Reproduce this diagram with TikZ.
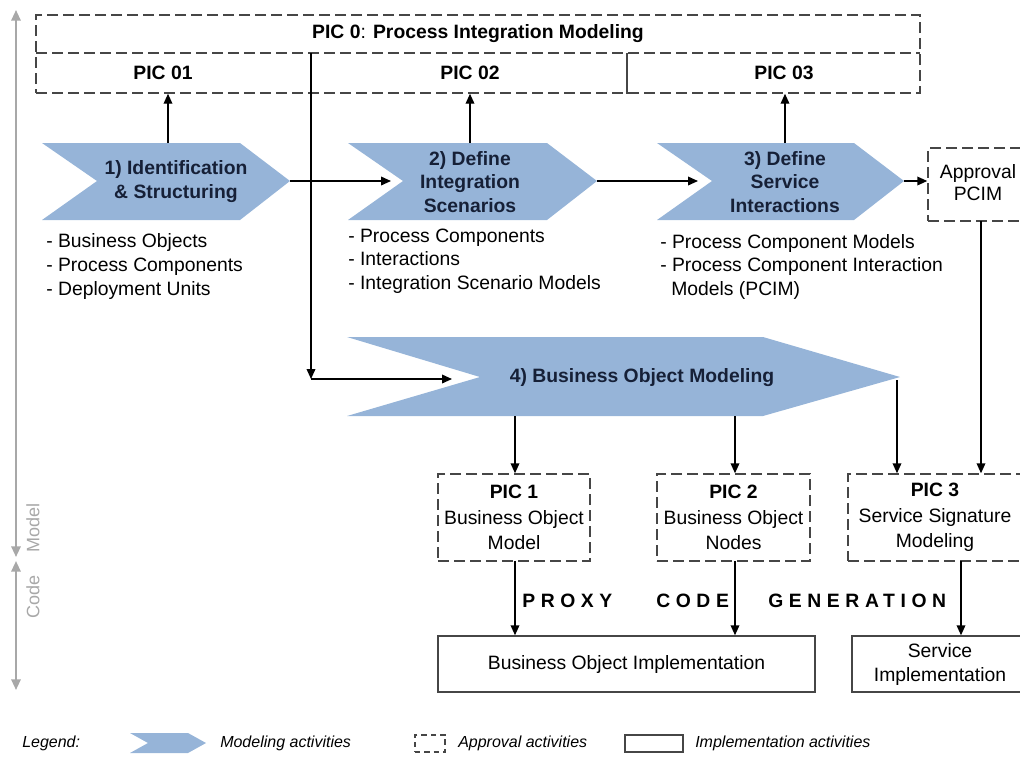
\documentclass[tikz,border=0pt]{standalone}
\usepackage{fontspec}
\setmainfont{Liberation Sans}
\newfontfamily\spacedfont[LetterSpace=29]{Liberation Sans}
\usetikzlibrary{arrows.meta,fit,calc}
\definecolor{chevfill}{RGB}{150,180,216}
\definecolor{chevtext}{RGB}{22,32,55}
\definecolor{boxline}{RGB}{70,70,70}
\definecolor{axisgray}{RGB}{168,168,168}
\begin{document}
\begin{tikzpicture}[x=0.75pt,y=-0.75pt,
  every node/.style={font=\fontsize{14.5}{18}\selectfont, inner sep=0pt},
  arr/.style={line width=1.1pt, -{Triangle[length=7.5pt,width=6.5pt]}},
  plain/.style={line width=1.1pt},
  dbox/.style={draw=boxline, line width=1.1pt, dash pattern=on 8pt off 4pt, inner sep=0pt},
  dline/.style={draw=boxline, line width=1.1pt, dash pattern=on 8pt off 4pt},
  sbox/.style={draw=boxline, line width=1.1pt, inner sep=0pt},
  chev/.style={fill=chevfill},
  chevlbl/.style={font=\fontsize{14.5}{17.6}\selectfont\bfseries, text=chevtext, align=center},
  boldlbl/.style={font=\fontsize{14.5}{18}\selectfont\bfseries},
  item/.style={anchor=base west},
  boxtxt/.style={align=center, font=\fontsize{14.5}{19}\selectfont},
  gaxis/.style={draw=axisgray, line width=1.5pt, {Triangle[length=8pt,width=7pt]}-{Triangle[length=8pt,width=7pt]}},
  glbl/.style={text=axisgray, rotate=90, font=\fontsize{13.5}{16}\selectfont},
  leg/.style={font=\fontsize{12}{14}\selectfont\itshape, anchor=west},
  gen/.style={font=\fontsize{14.5}{18}\selectfont\spacedfont\bfseries, anchor=base west},
]
\useasboundingbox (0,0) rectangle (1020,765);
\clip (0,0) rectangle (1020,765);

% ---- side axis ----
\coordinate (mtop) at (16,10);
\coordinate (mbot) at (16,557);
\coordinate (ctop) at (16,561);
\coordinate (cbot) at (16,690);
\draw[gaxis] (mbot) -- (mtop);
\draw[gaxis] (cbot) -- (ctop);
\node[glbl] (modellbl) at (33,528) {Model};
\node[glbl] (codelbl) at (33,597) {Code};

% ---- PIC 0 box ----
\node[dbox, fit={(36,15) (920,93)}] (pic0) {};
\draw[dline] (36,53) -- (920,53);
\coordinate (div) at (627,53);
\draw[plain, draw=boxline] (div) -- (div |- pic0.south);
\node[boldlbl] (pic0t) at (478,34) {PIC 0{\mdseries:} Process Integration Modeling};
\node[boldlbl] (pic01) at (163,73) {PIC 01};
\node[boldlbl] (pic02) at (470,73) {PIC 02};
\node[boldlbl] (pic03) at (784,73) {PIC 03};

% ---- chevrons ----
\fill[chev] (42,143) -- (240,143) -- (290,181) -- (240,220) -- (42,220) -- (97,181) -- cycle;
\fill[chev] (348,143) -- (547,143) -- (597,181) -- (547,220) -- (348,220) -- (403,181) -- cycle;
\fill[chev] (657,143) -- (854,143) -- (904,181) -- (854,220) -- (657,220) -- (712,181) -- cycle;
\fill[chev] (347,337) -- (763,337) -- (900,377) -- (763,416) -- (347,416) -- (480,377) -- cycle;
\node[chevlbl, font=\fontsize{14.5}{18}\selectfont\bfseries] (ch1) at (176,182) {1) Identification\\\& Structuring};
\node[chevlbl] (ch2) at (470,182) {2) Define\\Integration\\Scenarios};
\node[chevlbl] (ch3) at (785,182) {3) Define\\Service\\Interactions};
\node[chevlbl] (ch4) at (642,378) {4) Business Object Modeling};

\coordinate (ch1top) at (168,143);
\coordinate (ch2top) at (470,143);
\coordinate (ch3top) at (785,143);
\coordinate (ch1tip) at (290,181);
\coordinate (ch2tip) at (597,181);
\coordinate (ch3tip) at (904,181);
\coordinate (ch2in) at (391,181);
\coordinate (ch3in) at (698,181);

% ---- lists ----
\node[item] (l11) at (46,247) {- Business Objects};
\node[item] (l12) at (46,271) {- Process Components};
\node[item] (l13) at (46,295) {- Deployment Units};
\node[item] (l21) at (348,242) {- Process Components};
\node[item] (l22) at (348,265) {- Interactions};
\node[item] (l23) at (348,289) {- Integration Scenario Models};
\node[item] (l31) at (660,248) {- Process Component Models};
\node[item] (l32) at (660,271) {- Process Component Interaction};
\node[item] (l33) at (671,295) {Models (PCIM)};

% ---- approval box ----
\node[dbox, fit={(928,148) (1026,221)}] (appr) {};
\node[boxtxt, font=\fontsize{14.5}{16.5}\selectfont] (apprt) at (978,183) {Approval\\PCIM};

% ---- PIC boxes ----
\node[dbox, fit={(438,474) (590,561)}] (pic1) {};
\node[dbox, fit={(657,474) (810,561)}] (pic2) {};
\node[dbox, fit={(848,474) (1022,561)}] (pic3) {};
\node[boxtxt] (pic1t) at (pic1.center) {\textbf{PIC 1}\\Business Object\\Model};
\node[boxtxt] (pic2t) at (pic2.center) {\textbf{PIC 2}\\Business Object\\Nodes};
\node[boxtxt] (pic3t) at (pic3.center) {\textbf{PIC 3}\\Service Signature\\Modeling};

% ---- implementation boxes ----
\node[sbox, fit={(438,636) (815,692)}] (boi) {};
\node (boit) at (boi.center) {Business Object Implementation};
\node[sbox, fit={(852,636) (1028,692)}] (si) {};
\node[boxtxt, font=\fontsize{14.5}{18}\selectfont] (sit) at (si.center) {Service\\Implementation};

% ---- generation text ----
\node[gen] (proxy) at (522,607) {PROXY};
\node[gen] (code) at (656,607) {CODE};
\node[gen] (generation) at (768,607) {GENERATION};

% ---- connectors ----
\draw[arr] (ch1top) -- (ch1top |- pic0.south);
\draw[arr] (ch2top) -- (ch2top |- pic0.south);
\draw[arr] (ch3top) -- (ch3top |- pic0.south);
\draw[arr] (ch1tip) -- (ch2in);
\draw[arr] (ch2tip) -- (ch3in);
\draw[arr] (ch3tip) -- (ch3tip -| appr.west);

\coordinate (split) at (311,53);
\coordinate (corner) at (311,379);
\coordinate (ch4in) at (452,379);
\draw[arr] (split) -- (corner);
\draw[arr] (corner) -- (ch4in);

\coordinate (ch4b1) at (515,416);
\coordinate (ch4b2) at (735,416);
\coordinate (ch4b3) at (897,380);
\coordinate (apprb) at (981,221);
\draw[arr] (ch4b1) -- (ch4b1 |- pic1.north);
\draw[arr] (ch4b2) -- (ch4b2 |- pic2.north);
\draw[arr] (ch4b3) -- (ch4b3 |- pic3.north);
\draw[arr] (apprb) -- (apprb |- pic3.north);

\coordinate (p1b) at (515,561);
\coordinate (p2b) at (735,561);
\coordinate (p3b) at (961,561);
\draw[arr] (p1b) -- (p1b |- boi.north);
\draw[arr] (p2b) -- (p2b |- boi.north);
\draw[arr] (p3b) -- (p3b |- si.north);

% ---- legend ----
\node[leg] (legend) at (22,743) {Legend:};
\fill[chev] (130,733) -- (188,733) -- (206,743) -- (188,753) -- (130,753) -- (148,743) -- cycle;
\node[leg] (legmod) at (220,743) {Modeling activities};
\node[dbox, dash pattern=on 4pt off 3pt, line width=0.8pt, fit={(415,735) (445,752)}] (legappr) {};
\node[leg] (legapprt) at (458,743) {Approval activities};
\node[sbox, line width=0.8pt, fit={(625,735) (683,752)}] (legimpl) {};
\node[leg] (legimplt) at (695,743) {Implementation activities};
\end{tikzpicture}
\end{document}
